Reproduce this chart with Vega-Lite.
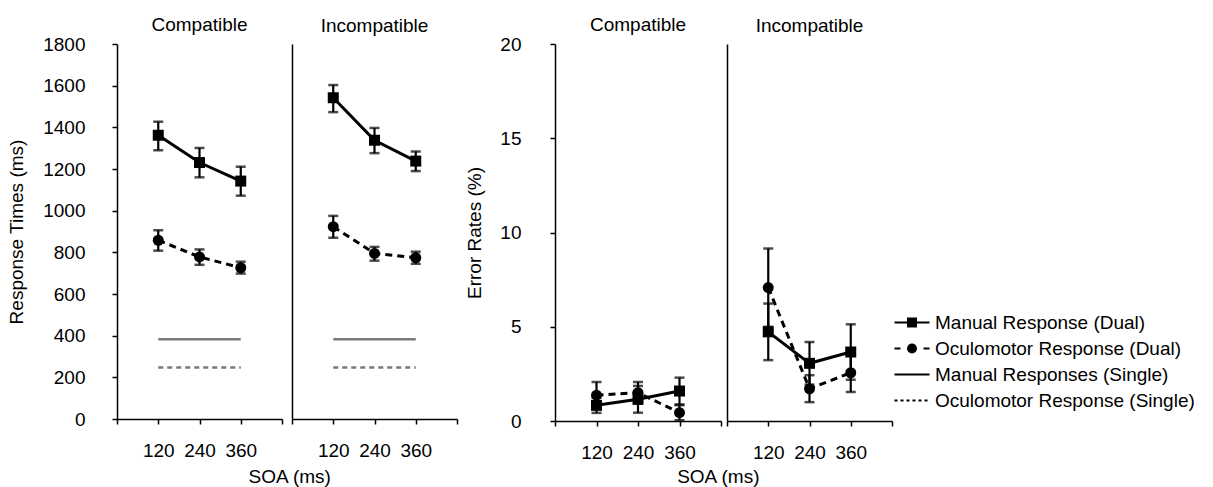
{
  "$schema": "https://vega.github.io/schema/vega-lite/v6.json",
  "padding": {"left": 7, "top": 16, "right": 5, "bottom": 0},
  "config": {
    "font": "Liberation Sans",
    "view": {"stroke": null},
    "axis": {"grid": false, "domainColor": "black", "domainWidth": 1.5, "tickColor": "black", "tickWidth": 1.5, "tickSize": 5, "labelFontSize": 19, "labelColor": "black", "titleFontSize": 19, "titleFontWeight": "normal", "titleColor": "black"},
    "title": {"fontSize": 19, "fontWeight": "normal", "color": "black", "offset": 8},
    "legend": {"labelFontSize": 19, "labelColor": "black"}
  },
  "datasets": {
    "rt": [
      {"compat": "Compatible", "series": "Manual", "soa": 120, "value": 1362, "lo": 1290, "hi": 1427},
      {"compat": "Compatible", "series": "Manual", "soa": 240, "value": 1231, "lo": 1160, "hi": 1301},
      {"compat": "Compatible", "series": "Manual", "soa": 360, "value": 1142, "lo": 1072, "hi": 1211},
      {"compat": "Compatible", "series": "Oculomotor", "soa": 120, "value": 858, "lo": 808, "hi": 906},
      {"compat": "Compatible", "series": "Oculomotor", "soa": 240, "value": 778, "lo": 740, "hi": 814},
      {"compat": "Compatible", "series": "Oculomotor", "soa": 360, "value": 726, "lo": 698, "hi": 755},
      {"compat": "Incompatible", "series": "Manual", "soa": 120, "value": 1542, "lo": 1473, "hi": 1603},
      {"compat": "Incompatible", "series": "Manual", "soa": 240, "value": 1338, "lo": 1276, "hi": 1397},
      {"compat": "Incompatible", "series": "Manual", "soa": 360, "value": 1238, "lo": 1190, "hi": 1284},
      {"compat": "Incompatible", "series": "Oculomotor", "soa": 120, "value": 923, "lo": 870, "hi": 975},
      {"compat": "Incompatible", "series": "Oculomotor", "soa": 240, "value": 795, "lo": 760, "hi": 826},
      {"compat": "Incompatible", "series": "Oculomotor", "soa": 360, "value": 774, "lo": 745, "hi": 803}
    ],
    "single": [
      {"compat": "Compatible", "series": "Manual", "soa": 120, "value": 383},
      {"compat": "Compatible", "series": "Manual", "soa": 240, "value": 383},
      {"compat": "Compatible", "series": "Manual", "soa": 360, "value": 383},
      {"compat": "Compatible", "series": "Oculomotor", "soa": 120, "value": 247},
      {"compat": "Compatible", "series": "Oculomotor", "soa": 240, "value": 247},
      {"compat": "Compatible", "series": "Oculomotor", "soa": 360, "value": 247},
      {"compat": "Incompatible", "series": "Manual", "soa": 120, "value": 383},
      {"compat": "Incompatible", "series": "Manual", "soa": 240, "value": 383},
      {"compat": "Incompatible", "series": "Manual", "soa": 360, "value": 383},
      {"compat": "Incompatible", "series": "Oculomotor", "soa": 120, "value": 247},
      {"compat": "Incompatible", "series": "Oculomotor", "soa": 240, "value": 247},
      {"compat": "Incompatible", "series": "Oculomotor", "soa": 360, "value": 247}
    ],
    "err": [
      {"compat": "Compatible", "series": "Manual", "soa": 120, "value": 0.83, "lo": 0.43, "hi": 1.23},
      {"compat": "Compatible", "series": "Manual", "soa": 240, "value": 1.15, "lo": 0.44, "hi": 1.86},
      {"compat": "Compatible", "series": "Manual", "soa": 360, "value": 1.59, "lo": 0.88, "hi": 2.3},
      {"compat": "Compatible", "series": "Oculomotor", "soa": 120, "value": 1.37, "lo": 0.67, "hi": 2.07},
      {"compat": "Compatible", "series": "Oculomotor", "soa": 240, "value": 1.5, "lo": 0.93, "hi": 2.07},
      {"compat": "Compatible", "series": "Oculomotor", "soa": 360, "value": 0.44, "lo": 0.04, "hi": 0.84},
      {"compat": "Incompatible", "series": "Manual", "soa": 120, "value": 4.73, "lo": 3.23, "hi": 6.23},
      {"compat": "Incompatible", "series": "Manual", "soa": 240, "value": 3.06, "lo": 1.93, "hi": 4.19},
      {"compat": "Incompatible", "series": "Manual", "soa": 360, "value": 3.66, "lo": 2.19, "hi": 5.13},
      {"compat": "Incompatible", "series": "Oculomotor", "soa": 120, "value": 7.08, "lo": 5.0, "hi": 9.15},
      {"compat": "Incompatible", "series": "Oculomotor", "soa": 240, "value": 1.71, "lo": 1.0, "hi": 2.43},
      {"compat": "Incompatible", "series": "Oculomotor", "soa": 360, "value": 2.56, "lo": 1.54, "hi": 3.58}
    ],
    "legendItems": [
      {"series": "Manual Response (Dual)"},
      {"series": "Oculomotor Response (Dual)"},
      {"series": "Manual Responses (Single)"},
      {"series": "Oculomotor Response (Single)"}
    ]
  },
  "spacing": 7,
  "hconcat": [
    {
      "title": {"text": "SOA (ms)", "orient": "bottom", "anchor": "middle", "offset": 8, "dx": 57},
      "spacing": 8,
      "hconcat": [
        {
          "width": 165, "height": 375,
          "title": {"text": "Compatible", "dy": 8},
          "encoding": {
            "x": {"field": "soa", "type": "quantitative", "scale": {"domain": [0, 480], "nice": false, "zero": false}, "axis": {"values": [0, 120, 240, 360, 480], "labelExpr": "datum.value==0||datum.value==480?'':datum.label", "title": null, "labelPadding": 17}},
            "y": {"field": "value", "type": "quantitative", "scale": {"domain": [0, 1800], "nice": false}, "axis": {"values": [0, 200, 400, 600, 800, 1000, 1200, 1400, 1600, 1800], "format": "d", "title": "Response Times (ms)", "labelPadding": 27, "titlePadding": 16}}
          },
          "layer": [
            {"data": {"name": "single"}, "transform": [{"filter": "datum.compat==='Compatible' && datum.series==='Manual'"}], "mark": {"type": "line", "color": "#7a7a7a", "strokeWidth": 2.5}},
            {"data": {"name": "single"}, "transform": [{"filter": "datum.compat==='Compatible' && datum.series==='Oculomotor'"}], "mark": {"type": "line", "color": "#7a7a7a", "strokeWidth": 2.5, "strokeDash": [5, 4]}},
            {"data": {"name": "rt"}, "transform": [{"filter": "datum.compat==='Compatible'"}], "mark": {"type": "errorbar", "ticks": {"thickness": 2.5}, "rule": {"strokeWidth": 2.2}, "size": 10, "color": "black"}, "encoding": {"y": {"field": "lo", "type": "quantitative", "title": "Response Times (ms)"}, "y2": {"field": "hi"}}},
            {"data": {"name": "rt"}, "transform": [{"filter": "datum.compat==='Compatible' && datum.series==='Manual'"}], "mark": {"type": "line", "color": "black", "strokeWidth": 3}},
            {"data": {"name": "rt"}, "transform": [{"filter": "datum.compat==='Compatible' && datum.series==='Oculomotor'"}], "mark": {"type": "line", "color": "black", "strokeWidth": 3, "strokeDash": [7, 5]}},
            {"data": {"name": "rt"}, "transform": [{"filter": "datum.compat==='Compatible' && datum.series==='Manual'"}], "mark": {"type": "point", "shape": "square", "filled": true, "size": 121, "color": "black", "opacity": 1}},
            {"data": {"name": "rt"}, "transform": [{"filter": "datum.compat==='Compatible' && datum.series==='Oculomotor'"}], "mark": {"type": "point", "shape": "circle", "filled": true, "size": 121, "color": "black", "opacity": 1}}
          ]
        },
        {
          "width": 165, "height": 375,
          "title": {"text": "Incompatible"},
          "encoding": {
            "x": {"field": "soa", "type": "quantitative", "scale": {"domain": [0, 480], "nice": false, "zero": false}, "axis": {"values": [0, 120, 240, 360, 480], "labelExpr": "datum.value==0||datum.value==480?'':datum.label", "title": null, "labelPadding": 17}},
            "y": {"field": "value", "type": "quantitative", "scale": {"domain": [0, 1800], "nice": false}, "axis": {"title": null, "labels": false, "ticks": false}}
          },
          "layer": [
            {"data": {"name": "single"}, "transform": [{"filter": "datum.compat==='Incompatible' && datum.series==='Manual'"}], "mark": {"type": "line", "color": "#7a7a7a", "strokeWidth": 2.5}},
            {"data": {"name": "single"}, "transform": [{"filter": "datum.compat==='Incompatible' && datum.series==='Oculomotor'"}], "mark": {"type": "line", "color": "#7a7a7a", "strokeWidth": 2.5, "strokeDash": [5, 4]}},
            {"data": {"name": "rt"}, "transform": [{"filter": "datum.compat==='Incompatible'"}], "mark": {"type": "errorbar", "ticks": {"thickness": 2.5}, "rule": {"strokeWidth": 2.2}, "size": 10, "color": "black"}, "encoding": {"y": {"field": "lo", "type": "quantitative", "title": null}, "y2": {"field": "hi"}}},
            {"data": {"name": "rt"}, "transform": [{"filter": "datum.compat==='Incompatible' && datum.series==='Manual'"}], "mark": {"type": "line", "color": "black", "strokeWidth": 3}},
            {"data": {"name": "rt"}, "transform": [{"filter": "datum.compat==='Incompatible' && datum.series==='Oculomotor'"}], "mark": {"type": "line", "color": "black", "strokeWidth": 3, "strokeDash": [7, 5]}},
            {"data": {"name": "rt"}, "transform": [{"filter": "datum.compat==='Incompatible' && datum.series==='Manual'"}], "mark": {"type": "point", "shape": "square", "filled": true, "size": 121, "color": "black", "opacity": 1}},
            {"data": {"name": "rt"}, "transform": [{"filter": "datum.compat==='Incompatible' && datum.series==='Oculomotor'"}], "mark": {"type": "point", "shape": "circle", "filled": true, "size": 121, "color": "black", "opacity": 1}}
          ]
        }
      ]
    },
    {
      "title": {"text": "SOA (ms)", "orient": "bottom", "anchor": "middle", "offset": 6, "dx": 39},
      "spacing": 4,
      "hconcat": [
        {
          "width": 166, "height": 377,
          "title": {"text": "Compatible", "dy": 8},
          "encoding": {
            "x": {"field": "soa", "type": "quantitative", "scale": {"domain": [0, 480], "nice": false, "zero": false}, "axis": {"values": [0, 120, 240, 360, 480], "labelExpr": "datum.value==0||datum.value==480?'':datum.label", "title": null, "labelPadding": 17}},
            "y": {"field": "value", "type": "quantitative", "scale": {"domain": [0, 20], "nice": false}, "axis": {"values": [0, 5, 10, 15, 20], "title": "Error Rates (%)", "labelPadding": 29, "titlePadding": 15}}
          },
          "layer": [
            {"data": {"name": "err"}, "transform": [{"filter": "datum.compat==='Compatible'"}], "mark": {"type": "errorbar", "ticks": {"thickness": 2.5}, "rule": {"strokeWidth": 2.2}, "size": 10, "color": "black"}, "encoding": {"y": {"field": "lo", "type": "quantitative", "title": "Error Rates (%)"}, "y2": {"field": "hi"}}},
            {"data": {"name": "err"}, "transform": [{"filter": "datum.compat==='Compatible' && datum.series==='Manual'"}], "mark": {"type": "line", "color": "black", "strokeWidth": 3}},
            {"data": {"name": "err"}, "transform": [{"filter": "datum.compat==='Compatible' && datum.series==='Oculomotor'"}], "mark": {"type": "line", "color": "black", "strokeWidth": 3, "strokeDash": [7, 5]}},
            {"data": {"name": "err"}, "transform": [{"filter": "datum.compat==='Compatible' && datum.series==='Manual'"}], "mark": {"type": "point", "shape": "square", "filled": true, "size": 121, "color": "black", "opacity": 1}},
            {"data": {"name": "err"}, "transform": [{"filter": "datum.compat==='Compatible' && datum.series==='Oculomotor'"}], "mark": {"type": "point", "shape": "circle", "filled": true, "size": 121, "color": "black", "opacity": 1}}
          ]
        },
        {
          "width": 165, "height": 377,
          "title": {"text": "Incompatible"},
          "encoding": {
            "x": {"field": "soa", "type": "quantitative", "scale": {"domain": [0, 480], "nice": false, "zero": false}, "axis": {"values": [0, 120, 240, 360, 480], "labelExpr": "datum.value==0||datum.value==480?'':datum.label", "title": null, "labelPadding": 17}},
            "y": {"field": "value", "type": "quantitative", "scale": {"domain": [0, 20], "nice": false}, "axis": {"title": null, "labels": false, "ticks": false}}
          },
          "layer": [
            {"data": {"name": "err"}, "transform": [{"filter": "datum.compat==='Incompatible'"}], "mark": {"type": "errorbar", "ticks": {"thickness": 2.5}, "rule": {"strokeWidth": 2.2}, "size": 10, "color": "black"}, "encoding": {"y": {"field": "lo", "type": "quantitative", "title": null}, "y2": {"field": "hi"}}},
            {"data": {"name": "err"}, "transform": [{"filter": "datum.compat==='Incompatible' && datum.series==='Manual'"}], "mark": {"type": "line", "color": "black", "strokeWidth": 3}},
            {"data": {"name": "err"}, "transform": [{"filter": "datum.compat==='Incompatible' && datum.series==='Oculomotor'"}], "mark": {"type": "line", "color": "black", "strokeWidth": 3, "strokeDash": [7, 5]}},
            {"data": {"name": "err"}, "transform": [{"filter": "datum.compat==='Incompatible' && datum.series==='Manual'"}], "mark": {"type": "point", "shape": "square", "filled": true, "size": 121, "color": "black", "opacity": 1}},
            {"data": {"name": "err"}, "transform": [{"filter": "datum.compat==='Incompatible' && datum.series==='Oculomotor'"}], "mark": {"type": "point", "shape": "circle", "filled": true, "size": 121, "color": "black", "opacity": 1}},
            {"data": {"name": "legendItems"}, "mark": {"type": "point", "filled": false, "color": "black", "strokeWidth": 2, "opacity": 0},
             "encoding": {"shape": {"field": "series", "type": "nominal",
               "scale": {"domain": ["Manual Response (Dual)", "Oculomotor Response (Dual)", "Manual Responses (Single)", "Oculomotor Response (Single)"],
                         "range": [
                           "M-1,0H6M1.7,-0.8H3.3V0.8H1.7ZM2.1,-0.4H2.9V0.4H2.1ZM2.3,0H2.7",
                           "M-1,0H0.2M4.8,0H6M3.3,0A0.8,0.8,0,1,1,1.7,0A0.8,0.8,0,1,1,3.3,0ZM2.9,0A0.4,0.4,0,1,1,2.1,0A0.4,0.4,0,1,1,2.9,0ZM2.3,0H2.7",
                           "M-1,0H6",
                           "M-1,0H-0.4M0.2,0H0.8M1.4,0H2M2.6,0H3.2M3.8,0H4.4M5,0H5.6"]},
               "legend": {"orient": "none", "legendX": 773, "legendY": 269, "title": null, "symbolSize": 100, "labelFontSize": 19, "labelOffset": 26, "rowPadding": 6, "padding": 0, "labelLimit": 400, "symbolStrokeWidth": 2, "symbolStrokeColor": "black"}}}}
          ]
        }
      ]
    }
  ]
}
